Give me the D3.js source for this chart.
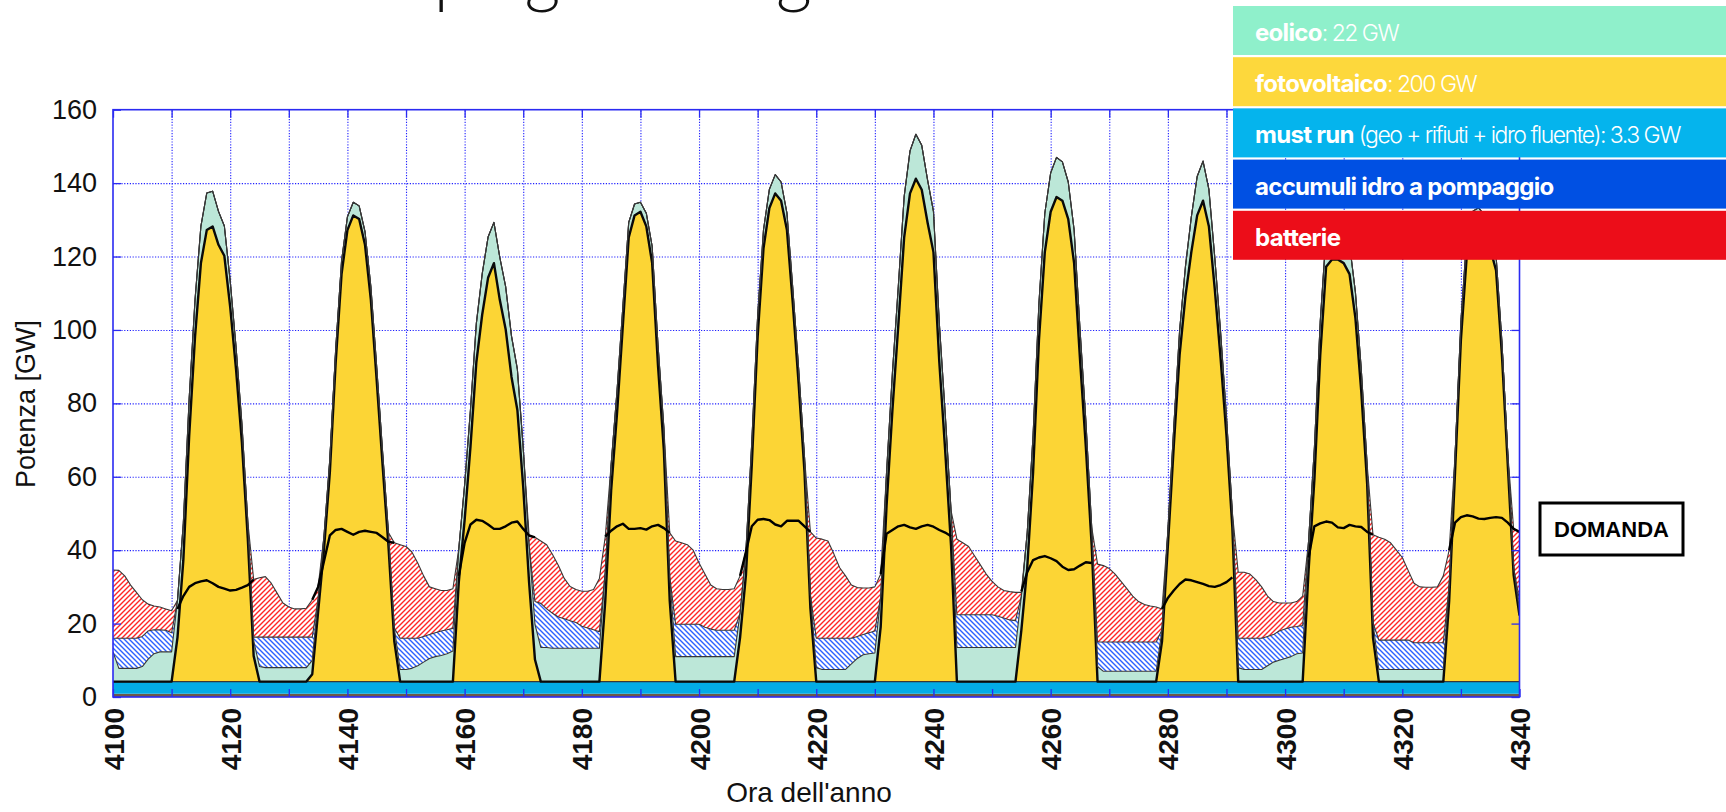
<!DOCTYPE html>
<html>
<head>
<meta charset="utf-8">
<script src="https://cdn.jsdelivr.net/npm/d3@7"></script>
<style>
  body { margin: 0; background: #fff; }
  svg { display: block; }
</style>
</head>
<body>
<svg id="chart" width="1726" height="812"></svg>
<script>
// hourly data, hour 4100 .. 4340 (GW)
const startHour = 4100;
const baseBand = 0.9;     // dark strip under the must run band
const mustRunGW = 3.3;

const pv = [
  0,0,0,0,0,0,0,0,0,0,0,
  12,33,67,94,114,123,124,119,116,102,85,65,39,7,
  0,0,0,0,0,0,0,0,0,
  2,19,36,57,87,111,123,127,126,119,104,82,59,37,11,
  0,0,0,0,0,0,0,0,0,0,
  27,44,64,87,100,110,114,104,96,83,74,53,27,6,
  0,0,0,0,0,0,0,0,0,0,0,
  22,52,73,97,121,127,128,124,114,86,63,22,
  0,0,0,0,0,0,0,0,0,0,0,
  12,29,59,94,118,129,133,131,123,103,81,57,20,
  0,0,0,0,0,0,0,0,0,0,0,
  15,48,74,97,121,133,137,134,125,117,87,63,37,
  0,0,0,0,0,0,0,0,0,0,0,
  14,31,57,93,117,128,132,131,126,114,88,64,37,
  0,0,0,0,0,0,0,0,0,0,0,
  11,37,64,89,105,117,127,131,124,107,88,67,42,
  0,0,0,0,0,0,0,0,0,0,0,0,
  30,55,89,113,115,115,114,111,99,79,54,12,
  0,0,0,0,0,0,0,0,0,0,0,0,
  22,57,93,116,123,124,122,118,112,89,59,29,18
];

const wind = [
  8.1,3.6,3.6,3.6,3.6,4.1,6.1,7.6,8.1,8.1,8.1,
  10.1,10.1,10.1,10.1,10.1,10.1,9.6,9.1,8.1,7.1,6.1,5.1,4.6,4.1,
  4.1,3.8,3.8,3.8,3.8,3.8,3.8,3.8,3.8,
  3.8,3.6,3.6,3.6,3.6,3.6,3.6,3.6,3.6,3.6,3.6,3.6,3.6,3.6,3.6,
  3.3,3.3,3.6,4.3,5.3,6.3,6.8,7.1,7.6,8.3,
  9.1,9.6,10.1,10.6,11.1,11.1,11.1,11.6,11.6,11.1,11.1,10.6,10.1,9.6,
  9.3,9.3,9.1,9.1,9.1,9.1,9.1,9.1,9.1,9.1,9.1,
  8.1,7.1,6.1,5.1,4.1,3.1,2.6,3.6,4.6,5.6,6.1,6.6,
  6.8,6.8,6.8,6.8,6.8,6.8,6.8,6.8,6.8,6.8,6.8,
  6.6,6.6,6.1,5.6,5.1,5.1,5.1,5.1,4.6,4.1,4.1,4.1,3.6,
  3.8,3.3,3.3,3.3,3.3,3.3,4.8,6.3,7.3,7.6,7.8,
  8.1,9.1,10.1,10.6,11.1,11.6,12.1,12.1,11.6,11.1,10.6,10.1,9.6,
  9.3,9.3,9.3,9.3,9.3,9.3,9.3,9.3,9.3,9.3,9.3,
  9.3,9.6,10.1,10.1,10.6,10.6,10.8,10.6,10.1,9.1,8.1,7.1,5.1,
  4.1,2.8,2.8,2.8,2.8,2.8,2.8,2.8,2.8,2.8,2.8,
  3.1,4.1,5.1,6.6,8.1,9.6,10.6,10.8,10.1,8.6,7.1,5.1,4.1,
  3.8,3.3,3.3,3.3,3.3,4.3,5.3,5.8,6.3,6.8,7.6,7.8,
  8.1,8.6,9.1,9.1,9.1,9.1,8.6,8.1,7.1,6.1,5.1,4.1,
  3.3,3.3,3.3,3.3,3.3,3.3,3.3,3.3,3.3,3.3,3.3,3.3,
  4.1,4.6,5.1,5.1,5.1,5.1,5.1,4.6,4.1,3.6,3.1,2.1,1.1
];

const hydro = [
  3.7,8.2,8.2,8.2,8.2,8.2,7.7,6.5,6,5.9,5.2,
  0,0,0,0,0,0,0,0,0,0,0,0,0,
  1,
  8,8.3,8.3,8.3,8.3,8.3,8.3,8.3,8.3,
  6.3,
  0,0,0,0,0,0,0,0,0,0,0,0,0,0,
  8.5,8.5,8.2,7.5,7,6.5,6.5,6.7,6.5,6.2,
  0,0,0,0,0,0,0,0,0,0,0,0,0,
  6.2,
  12,10.5,9.5,8.5,8,7.5,7,6,5.5,5,4.5,
  0,0,0,0,0,0,0,0,0,0,0,0,
  8.8,8.8,8.8,8.8,8.8,8,7.5,7.2,7.2,7.2,7.2,
  0,0,0,0,0,0,0,0,0,0,0,0,0,
  8,8.5,8.5,8.5,8.5,8.5,7,6,5.5,5.7,6,
  0,0,0,0,0,0,0,0,0,0,0,0,0,
  8.9,8.9,8.9,8.9,8.9,8.9,8.9,8.5,8,7.5,7.3,
  0,0,0,0,0,0,0,0,0,0,0,0,0,
  6.7,8,8,8,8,8,8,8,8,8,8,
  0,0,0,0,0,0,0,0,0,0,0,0,0,
  8,8.5,8.5,8.5,8.5,8,7.5,8,8,8,7.4,7.5,
  0,0,0,0,0,0,0,0,0,0,0,0,
  8,8,8,8,8,8,7.3,7.3,7.3,7.3,7.3,7.3,
  0,0,0,0,0,0,0,0,0,0,0,0,
  3
];

const battery = [
  18.6,18.5,17,14.5,12.5,10,7.3,6.5,6.2,5.8,6,
  0,0,0,0,0,0,0,0,0,0,0,0,0,
  15.7,
  16.2,16.5,14.7,12,9.3,8.2,7.7,7.7,7.9,
  10.2,
  3.2,
  0,0,0,0,0,0,0,0,0,0,0,0,
  23.2,
  25.5,25,23.5,20.5,16.5,13,12,11,10.7,10.8,
  0,0,0,0,0,0,0,0,0,0,0,0,
  2.7,
  17.5,
  17,17.5,16,14,11,9.3,9,9.5,10,11,14.5,
  9.4,
  0,0,0,0,0,0,0,0,0,0,
  11.9,
  22.7,22.2,21.7,20.2,16.7,14.5,12,11.3,11.1,11.1,11.3,
  10.2,
  0,0,0,0,0,0,0,0,0,0,0,
  17.2,
  27.3,27,26.5,23,19.2,17,14.5,13.3,12.7,12.2,12,
  6.2,
  0,0,0,0,0,0,0,0,0,0,0,0,
  20.6,19.6,18.6,16.1,13.6,11.1,9.1,8,7.5,7.7,7.7,
  1,
  0,0,0,0,0,0,0,0,0,0,0,0,
  21.2,20.8,20,18.5,16.5,14.5,12.5,11,10.2,9.8,9.5,
  5.7,
  0,0,0,0,0,0,0,0,0,0,0,0,
  18,18,17.5,16,14,11,9,7.6,7.1,6.6,6.8,8,
  0,0,0,0,0,0,0,0,0,0,0,
  23.9,
  28,27.5,26.5,24.5,22.5,19,16.2,15.2,15.1,15.1,15.2,18.2,
  9.7,
  0,0,0,0,0,0,0,0,0,0,
  10.5,
  18.7
];

const demand = [
  34.6,34.5,33,30.5,28.5,26.5,25.3,24.8,24.5,24,23.5,
  24,27.5,30,31,31.5,31.8,31,30,29.5,29,29.2,29.8,30.5,32,
  32.5,32.8,31,28.3,25.6,24.5,24,24,24.2,
  26.5,30,37,44,45.5,45.8,45,44.2,45,45.3,45,44.7,43.5,42.3,42,
  41.5,41,39.5,36.5,33,30,29.5,29,29,29.5,
  33,42,47,48.3,48,47,45.8,45.8,46.5,47.5,47.8,45.8,44,43.5,
  42.5,41.5,39,36,32.5,30.3,29.5,29,29,29.5,32.5,
  43.7,45.3,46.5,47.2,45.8,45.8,46,45.6,46.5,46.9,46,44.7,
  42.5,42,41.5,40,36.5,33.5,30.5,29.5,29.3,29.3,29.5,
  33,39.5,46.5,48.3,48.5,48.2,47,46.5,48,48,48,46.5,45,
  43.3,43,42.5,39,35.2,33,30.5,29.8,29.7,29.7,30,
  33.5,44.5,45.5,46.5,46.9,46.2,45.8,46.5,46.9,46.4,45.5,44.8,43.8,
  43,42,41,38.5,36,33.5,31.5,30,29,28.7,28.5,
  28.8,34,37.3,38,38.4,37.8,37,35.5,34.6,34.8,35.8,36.7,36.5,
  36.2,35.8,35,33.5,31.5,29.5,27.5,26,25.2,24.8,24.5,
  24,27,29,30.8,32,31.8,31.3,30.8,30.2,30,30.5,31.3,32.6,
  34,34,33.5,32,30,27.5,26,25.6,25.6,25.6,26,27.5,
  38,46.5,47.3,47.8,47.5,46.2,46,46.9,46.5,46.3,45,44.2,
  43.5,43,42,40,38,34.5,31,30,29.9,29.9,30,33,
  40,47.5,49,49.5,49.2,48.6,48.5,48.8,49,48.8,47.5,45.8,45
];

const xLabelTicks = d3.range(4100, 4341, 20);
const xMinorTicks = d3.range(4100, 4341, 10);
const yTicks = d3.range(0, 161, 20);

const legendKeys = ["eolico", "fotovoltaico", "must run", "accumuli idro a pompaggio", "batterie"];
const legendDetails = [": 22 GW", ": 200 GW", " (geo + rifiuti + idro fluente): 3.3 GW", "", ""];
const legendColors = ["#8ff0cb", "#fdd83c", "#05b4ed", "#0050e3", "#ec0d19"];

// ---------- layout
const X0 = 113, X1 = 1519.5, YT = 109.7, YB = 697;
const BLUE = "#2b2bf2";
const FONT = "'Liberation Sans', Arial, sans-serif";

const svg = d3.select("#chart");

const hours = d3.range(startHour, startHour + pv.length);
const rows = hours.map((h, i) => ({
  hour: h, base: baseBand, mustRun: mustRunGW,
  pv: pv[i], wind: wind[i], hydro: hydro[i], battery: battery[i], demand: demand[i]
}));

const keys = ["base", "mustRun", "pv", "wind", "hydro", "battery"];
const fills = {
  base: "#6e5848", mustRun: "#03ace6", pv: "#fcd535",
  wind: "#bce7d8", hydro: "url(#hatchBlue)", battery: "url(#hatchRed)"
};
const series = d3.stack().keys(keys)(rows);

const x = d3.scaleLinear().domain([4100, 4340]).range([X0, X1]);
const y = d3.scaleLinear().domain([0, 160]).range([YB, YT]);

// ---------- defs: hatches + clip
const defs = svg.append("defs");
function hatch(id, color, d) {
  const p = defs.append("pattern").attr("id", id)
    .attr("patternUnits", "userSpaceOnUse").attr("width", 5).attr("height", 5);
  p.append("rect").attr("width", 5).attr("height", 5).attr("fill", "#fff");
  p.append("path").attr("d", d).attr("stroke", color).attr("stroke-width", 1.4);
}
hatch("hatchRed", "#ff2626", "M-1,1 L1,-1 M0,5 L5,0 M4,6 L6,4");
hatch("hatchBlue", "#2d62ff", "M-1,4 L1,6 M0,0 L5,5 M4,-1 L6,1");
defs.append("clipPath").attr("id", "plotClip")
  .append("rect").attr("x", X0).attr("y", YT).attr("width", X1 - X0).attr("height", YB - YT);

// ---------- title (cut off at the top, as in the original)
svg.append("text")
  .attr("x", 100).attr("y", -1)
  .attr("font-family", "Lato, 'Open Sans', sans-serif")
  .attr("font-weight", 300)
  .attr("font-size", 70)
  .attr("fill", "#111")
  .text("Come si impiega l'energia");

// ---------- grid
const grid = svg.append("g").attr("class", "grid");
grid.append("g").attr("transform", `translate(0,${YB})`)
  .call(d3.axisBottom(x).tickValues(xMinorTicks.slice(1, -1)).tickSize(-(YB - YT)).tickFormat(""));
grid.append("g").attr("transform", `translate(${X0},0)`)
  .call(d3.axisLeft(y).tickValues(yTicks.slice(1, -1)).tickSize(-(X1 - X0)).tickFormat(""));
grid.selectAll(".domain").remove();
grid.selectAll("line").attr("stroke", "#2020ff").attr("stroke-width", 1.1).attr("stroke-dasharray", "1.2,1.6");

// ---------- stacked areas
const plot = svg.append("g").attr("clip-path", "url(#plotClip)");
const area = d3.area()
  .x(d => x(d.data.hour))
  .y0(d => y(d[0]))
  .y1(d => y(d[1]));
plot.selectAll("path.layer")
  .data(series)
  .join("path")
  .attr("class", "layer")
  .attr("fill", d => fills[d.key])
  .attr("d", area);

const topLine = d3.line().x(d => x(d.data.hour)).y(d => y(d[1]));
plot.selectAll("path.edge")
  .data(series.filter(s => s.key !== "base"))
  .join("path")
  .attr("class", "edge")
  .attr("fill", "none")
  .attr("stroke", d => d.key === "pv" ? "#0a0a0a" : "#383838")
  .attr("stroke-width", d => d.key === "pv" ? 2.4 : 1.1)
  .attr("stroke-linejoin", "round")
  .attr("d", topLine);

// demand: visible as a black line while the sun covers it
const demandLine = d3.line()
  .defined(d => d.pv > 0)
  .x(d => x(d.hour))
  .y(d => y(d.demand));
plot.append("path")
  .datum(rows)
  .attr("fill", "none")
  .attr("stroke", "#000")
  .attr("stroke-width", 2.4)
  .attr("stroke-linejoin", "round")
  .attr("d", demandLine);

// ---------- frame + inner ticks
svg.append("rect")
  .attr("x", X0).attr("y", YT).attr("width", X1 - X0).attr("height", YB - YT)
  .attr("fill", "none").attr("stroke", BLUE).attr("stroke-width", 1.6);

const axisL = svg.append("g").attr("transform", `translate(${X0},0)`)
  .call(d3.axisLeft(y).tickValues(yTicks).tickSize(-8).tickPadding(16));
const axisR = svg.append("g").attr("transform", `translate(${X1},0)`)
  .call(d3.axisRight(y).tickValues(yTicks).tickSize(-8).tickFormat(""));
const axisT = svg.append("g").attr("transform", `translate(0,${YT})`)
  .call(d3.axisTop(x).tickValues(xMinorTicks).tickSize(-8).tickFormat(""));
const axisB = svg.append("g").attr("transform", `translate(0,${YB})`)
  .call(d3.axisBottom(x).tickValues(xMinorTicks).tickSize(-8)
    .tickFormat(d => xLabelTicks.includes(d) ? d : ""));

[axisL, axisR, axisT, axisB].forEach(g => {
  g.select(".domain").remove();
  g.selectAll(".tick line").attr("stroke", BLUE).attr("stroke-width", 1.3);
});

axisL.selectAll("text")
  .attr("font-family", FONT).attr("font-size", 27).attr("fill", "#111");

axisB.selectAll("text")
  .attr("font-family", FONT).attr("font-size", 28).attr("font-weight", "bold").attr("fill", "#111")
  .attr("transform", "rotate(-90)")
  .attr("text-anchor", "end")
  .attr("x", -11).attr("y", 0).attr("dy", "0.36em");

// axis titles
svg.append("text")
  .attr("x", 809).attr("y", 802)
  .attr("text-anchor", "middle")
  .attr("font-family", FONT).attr("font-size", 28).attr("fill", "#111")
  .text("Ora dell'anno");
svg.append("text")
  .attr("transform", "translate(35,404) rotate(-90)")
  .attr("text-anchor", "middle")
  .attr("font-family", FONT).attr("font-size", 27).attr("fill", "#111")
  .text("Potenza [GW]");

// ---------- DOMANDA label
svg.append("rect")
  .attr("x", 1540).attr("y", 503).attr("width", 143).attr("height", 52)
  .attr("fill", "#fff").attr("stroke", "#000").attr("stroke-width", 3);
svg.append("text")
  .attr("x", 1611.5).attr("y", 537)
  .attr("text-anchor", "middle")
  .attr("font-family", FONT).attr("font-size", 22).attr("font-weight", "bold")
  .text("DOMANDA");

// ---------- legend (coloured bars, top right)
const legend = svg.append("g").attr("transform", "translate(1233,6)");
const rowsL = legend.selectAll("g")
  .data(legendKeys)
  .join("g")
  .attr("transform", (d, i) => `translate(0,${i * 51.2})`);
rowsL.append("rect")
  .attr("width", 1726 - 1233).attr("height", 49)
  .attr("fill", (d, i) => legendColors[i]);
const lt = rowsL.append("text")
  .attr("x", 22).attr("y", 35)
  .attr("font-family", "Inter, 'Noto Sans', sans-serif")
  .attr("font-size", 24)
  .attr("fill", "#fff")
  .style("white-space", "pre");
lt.append("tspan").attr("font-weight", 700).attr("letter-spacing", -0.7).text(d => d);
lt.append("tspan").attr("font-weight", 300).attr("font-size", 23)
  .attr("letter-spacing", -1.5).text((d, i) => legendDetails[i]);
</script>
</body>
</html>
